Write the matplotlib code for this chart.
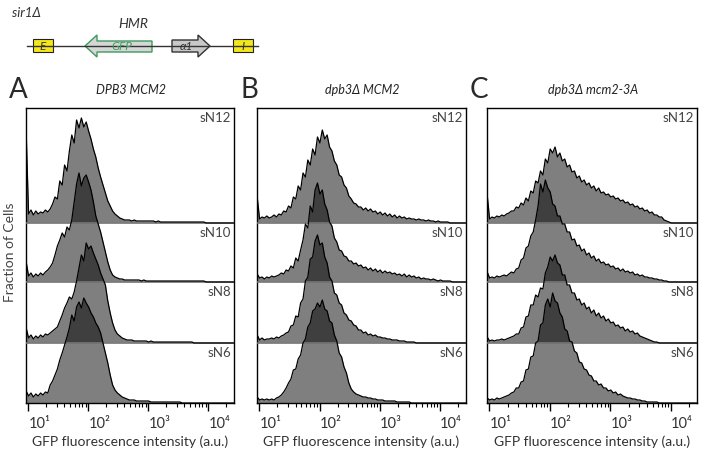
import matplotlib
matplotlib.use('Agg')
import matplotlib.pyplot as plt
import numpy as np
from matplotlib.patches import Rectangle, Polygon
from matplotlib.ticker import LogLocator, NullFormatter

plt.rcParams['font.family'] = ['Lato', 'DejaVu Sans']

# histogram bins (log10 of GFP intensity), values = relative cell counts
LOG_START, LOG_STEP, N_BINS = 0.965, 0.04, 88

a_sn12 = [90, 9, 13, 8, 12, 9, 11, 10, 13, 11, 14, 19, 26, 24, 42, 38, 58, 52, 72, 88, 80, 103, 95, 105, 96, 101,
          92, 84, 74, 66, 55, 46, 38, 30, 22, 17, 12, 9, 7, 5, 4, 3, 3, 3, 2, 3, 2, 2, 2, 2, 2, 2, 2, 2, 1, 2, 1, 1,
          1, 1, 1, 1, 1, 1, 1, 1, 1, 1, 1, 1, 1, 1, 1, 1, 1]
a_sn10 = [20, 6, 9, 5, 8, 6, 9, 7, 10, 12, 15, 19, 27, 36, 42, 49, 45, 55, 52, 62, 80, 98, 109, 96, 104, 107, 100,
          92, 80, 66, 58, 50, 40, 30, 20, 12, 7, 5, 4, 3, 3, 2, 2, 2, 2, 2, 2, 2, 1, 2, 1, 1, 1, 1, 1, 1, 1, 1, 1, 1,
          1, 1, 1, 1, 1, 1, 1, 1, 1, 1, 1, 1, 1, 1, 1]
a_sn8 = [15, 5, 8, 4, 7, 5, 8, 6, 9, 8, 10, 12, 14, 16, 22, 28, 35, 40, 46, 44, 51, 62, 75, 88, 82, 100, 94, 97, 90,
         84, 78, 70, 64, 58, 42, 30, 20, 13, 9, 7, 5, 4, 3, 3, 3, 2, 2, 2, 2, 2, 2, 1, 2, 1, 1, 1, 1, 1, 1, 1, 1, 1,
         1, 1, 1, 1, 1, 1, 1, 1]
a_sn6 = [12, 7, 10, 6, 9, 7, 10, 8, 11, 10, 18, 22, 28, 34, 43, 50, 58, 66, 75, 88, 82, 96, 101, 95, 105, 100, 96,
         90, 86, 80, 76, 70, 60, 50, 40, 28, 18, 13, 10, 8, 6, 5, 4, 3, 3, 3, 2, 2, 2, 2, 2, 2, 1, 1, 1, 1, 1, 1, 1,
         1, 1, 1, 1, 1, 1]

b_sn12 = [26, 4, 6, 5, 7, 5, 6, 8, 6, 9, 8, 12, 11, 17, 15, 26, 24, 37, 33, 50, 46, 63, 58, 74, 68, 86, 80, 93, 84,
          88, 76, 72, 62, 58, 48, 46, 38, 35, 27, 24, 20, 19, 16, 16, 13, 15, 12, 14, 11, 12, 9, 11, 8, 10, 7, 9, 6,
          8, 5, 7, 5, 6, 4, 5, 4, 4, 3, 4, 3, 3, 2, 3, 2, 2, 1, 2, 1, 1, 1, 1]
b_sn10 = [8, 4, 5, 3, 5, 4, 6, 5, 6, 7, 9, 8, 12, 11, 16, 14, 24, 21, 32, 42, 58, 54, 76, 70, 92, 99, 88, 92, 78, 72,
          60, 56, 44, 40, 32, 31, 26, 25, 21, 21, 18, 19, 16, 17, 14, 15, 12, 14, 11, 13, 10, 12, 9, 11, 9, 10, 8, 9,
          7, 8, 6, 8, 5, 7, 5, 6, 4, 5, 3, 4, 3, 3, 2, 3, 2, 1, 2, 1, 1, 1, 1]
b_sn8 = [8, 3, 5, 3, 4, 4, 5, 4, 6, 5, 7, 8, 10, 11, 17, 18, 27, 26, 40, 44, 62, 66, 84, 86, 102, 108, 98, 100, 86,
         80, 66, 62, 50, 48, 40, 38, 30, 28, 23, 22, 18, 17, 13, 13, 10, 11, 8, 9, 7, 8, 6, 6, 5, 5, 4, 4, 3, 3, 3, 2,
         2, 2, 1, 1, 1, 1]
b_sn6 = [6, 3, 4, 3, 4, 3, 4, 3, 5, 6, 8, 11, 15, 20, 24, 33, 34, 44, 48, 60, 64, 76, 80, 92, 94, 100, 96, 103, 94,
         92, 82, 80, 68, 62, 50, 46, 36, 30, 20, 14, 11, 9, 8, 7, 6, 6, 5, 5, 4, 4, 3, 3, 3, 2, 2, 2, 2, 2, 1, 1, 1,
         1, 1, 1]

c_sn12 = [28, 4, 6, 5, 7, 6, 8, 7, 9, 10, 12, 12, 16, 15, 20, 18, 25, 22, 32, 30, 42, 40, 52, 48, 64, 60, 74, 70, 76,
          66, 70, 62, 64, 56, 58, 51, 52, 45, 47, 41, 43, 38, 40, 35, 37, 32, 35, 30, 31, 28, 29, 26, 27, 24, 25, 22,
          23, 20, 21, 18, 19, 16, 17, 14, 15, 12, 13, 10, 11, 8, 8, 6, 6, 3, 2, 1]
c_sn10 = [10, 4, 5, 4, 6, 5, 6, 7, 6, 8, 10, 9, 13, 14, 22, 24, 34, 36, 46, 50, 62, 76, 98, 90, 102, 94, 90, 78, 76,
          66, 66, 58, 58, 50, 50, 42, 43, 36, 37, 31, 33, 27, 29, 24, 26, 21, 23, 19, 20, 17, 18, 15, 16, 13, 14, 11,
          13, 10, 11, 9, 10, 7, 8, 6, 7, 5, 5, 4, 4, 3, 3, 2, 2, 1, 1]
c_sn8 = [6, 2, 3, 2, 3, 3, 4, 3, 4, 5, 6, 7, 9, 9, 15, 16, 26, 27, 38, 38, 48, 46, 55, 54, 70, 76, 86, 82, 88, 80, 78,
         68, 68, 58, 58, 50, 50, 43, 44, 38, 40, 34, 36, 30, 33, 27, 30, 25, 27, 22, 24, 20, 21, 17, 18, 15, 16, 12,
         14, 11, 12, 9, 10, 7, 6, 5, 4, 3, 2, 1, 1]
c_sn6 = [5, 3, 4, 3, 5, 4, 5, 6, 7, 8, 10, 11, 15, 15, 21, 22, 33, 34, 46, 47, 60, 62, 78, 80, 98, 104, 96, 110, 102,
         100, 90, 86, 74, 72, 62, 61, 52, 50, 41, 40, 34, 33, 28, 27, 22, 22, 18, 19, 15, 15, 12, 13, 10, 11, 8, 9, 7,
         6, 5, 5, 4, 4, 3, 3, 2, 2, 1, 1, 1, 1, 1]

strains = ['sN12', 'sN10', 'sN8', 'sN6']
titles = ['DPB3 MCM2', 'dpb3Δ MCM2', 'dpb3Δ mcm2-3A']
letters = ['A', 'B', 'C']
panels = [[a_sn12, a_sn10, a_sn8, a_sn6], [b_sn12, b_sn10, b_sn8, b_sn6], [c_sn12, c_sn10, c_sn8, c_sn6]]
tick_vals = [1e1, 1e2, 1e3, 1e4]
tick_labels = ['10¹', '10²', '10³', '10⁴']

# layout (pixels)
W, H = 706, 453
panel_x = [(26, 234), (257, 466), (487, 697)]
y_top, y_bot = 108, 403
bases = [180, 121, 60, 0]   # baseline of each strip, in pixels above the x axis

fig = plt.figure(figsize=(W / 100, H / 100), dpi=100)
x = 10 ** (LOG_START + LOG_STEP * np.arange(N_BINS))


def padded(vals):
    out = np.zeros(N_BINS)
    out[:len(vals)] = vals
    return out


for k, (x0, x1) in enumerate(panel_x):
    ax = fig.add_axes([x0 / W, 1 - y_bot / H, (x1 - x0) / W, (y_bot - y_top) / H])
    ax.set_xscale('log')
    ax.set_xlim(10 ** 0.962, 10 ** 4.428)
    ax.set_ylim(0, y_bot - y_top)

    for name, vals, base in zip(strains, panels[k], bases):
        h = padded(vals)
        ax.fill_between(x, base, base + h, color='black', alpha=0.5, lw=0, zorder=2)
        ax.plot(x, base + h, color='black', lw=0.9, zorder=4)
        if base > 0:
            ax.axhline(base, color='#7a7a7a', lw=1.1, zorder=3)
        top = bases[bases.index(base) - 1] if base != bases[0] else y_bot - y_top
        ax.annotate(name, xy=(1, top), xycoords=ax.get_yaxis_transform(), xytext=(-2, -3),
                    textcoords='offset points', ha='right', va='top', fontsize=9.5, color='#444444')

    for s in ax.spines.values():
        s.set_linewidth(1.0)
    ax.set_yticks([])
    ax.set_xticks(tick_vals)
    ax.set_xticklabels(tick_labels, fontsize=10.5, color='#333333')
    for lbl in ax.get_xticklabels():
        lbl.set_ha('left')
    ax.xaxis.set_minor_locator(LogLocator(base=10, subs=np.arange(2, 10)))
    ax.xaxis.set_minor_formatter(NullFormatter())
    ax.tick_params(axis='x', which='major', direction='out', length=6, width=1.0, pad=4)
    ax.tick_params(axis='x', which='minor', direction='out', length=3, width=0.8)
    ax.set_xlabel('GFP fluorescence intensity (a.u.)', fontsize=10, color='#333333', labelpad=3)

# overlay in pixel coordinates for the diagram and labels
ov = fig.add_axes([0, 0, 1, 1])
ov.set_xlim(0, W)
ov.set_ylim(H, 0)
ov.axis('off')

for (x0, x1), letter, title in zip(panel_x, letters, titles):
    ov.text(x0 - 8, 98, letter, fontsize=20, ha='center', va='baseline', color='#2a2a2a')
    ov.text((x0 + x1) / 2 + 1, 90.5, title, fontsize=9, style='italic', ha='center', va='center', color='#222222')

ov.text(10, 252, 'Fraction of Cells', rotation=90, fontsize=10, ha='center', va='center', color='#444444')

# HMR locus cartoon
ov.text(12, 13, 'sir1Δ', fontsize=9.5, style='italic', ha='left', va='center', color='#333333')
ov.text(133, 23.5, 'HMR', fontsize=10, style='italic', ha='center', va='center', color='#333333')
ov.plot([27, 258], [45.5, 45.5], color='#333333', lw=1)
for bx, lab in [(33, 'E'), (233, 'I')]:
    ov.add_patch(Rectangle((bx, 39), 20, 13, fc='#f4e81c', ec='#222222', lw=0.8))
    ov.text(bx + 10, 46, lab, fontsize=8.5, style='italic', ha='center', va='center', color='#333333')
ov.add_patch(Polygon([(85, 46), (97, 35), (97, 41), (152, 41), (152, 52), (97, 52), (97, 57)],
                     fc='#d6d6d6', ec='#3d9a5c', lw=1))
ov.text(122, 46.5, 'GFP', fontsize=8.5, style='italic', ha='center', va='center', color='#3d9a5c')
ov.add_patch(Polygon([(172, 40), (198, 40), (198, 35), (210, 46), (198, 57), (198, 52), (172, 52)],
                     fc='#c8c8c8', ec='#333333', lw=1))
ov.text(186, 46.5, 'α1', fontsize=8.5, style='italic', ha='center', va='center', color='#333333')

fig.savefig('out.png', dpi=100)
